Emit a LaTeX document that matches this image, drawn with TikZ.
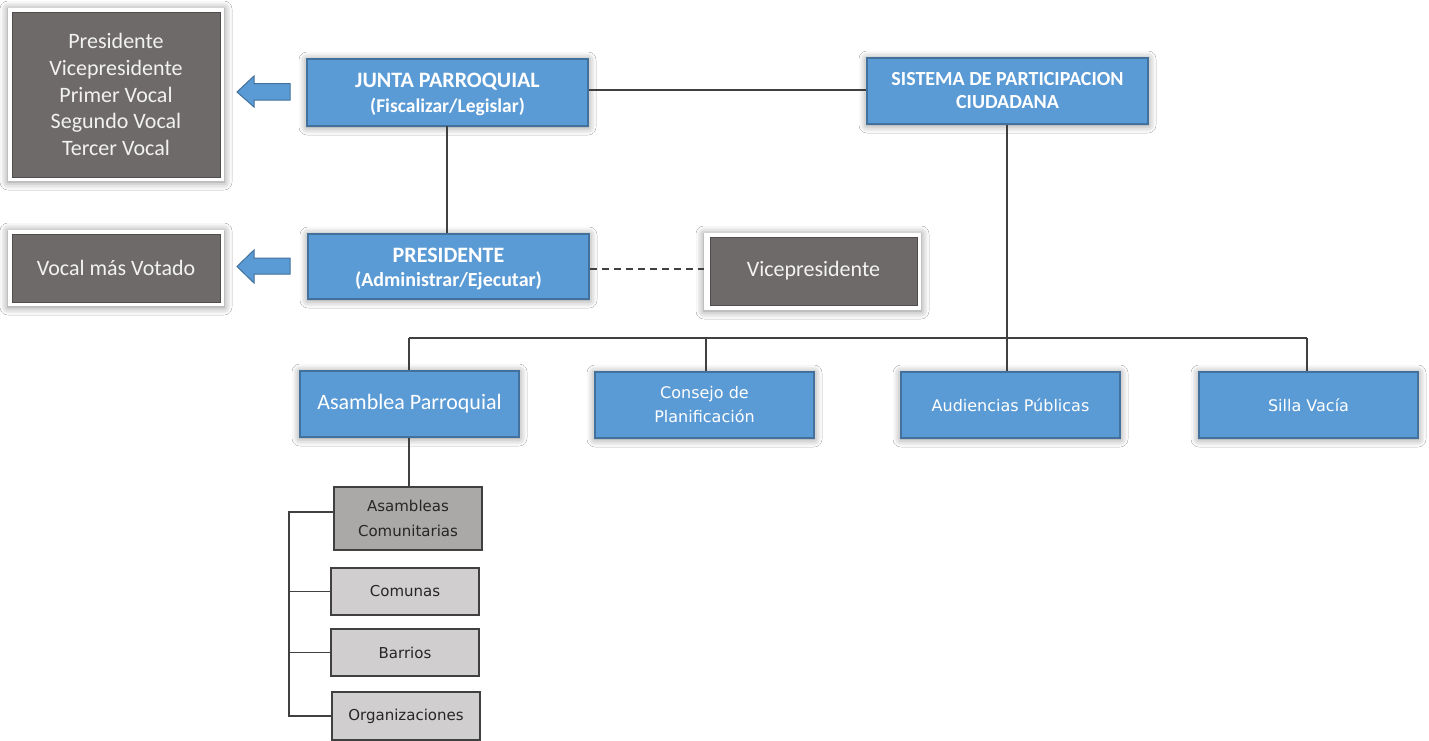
\documentclass[tikz,border=0pt]{standalone}
\usepackage{fontspec}
\setmainfont{Carlito}
\newfontfamily\djv{DejaVu Sans}
\usetikzlibrary{shadows.blur}
\definecolor{blu}{HTML}{5B9BD5}
\definecolor{bluedge}{HTML}{41719C}
\definecolor{gry}{HTML}{6E6A69}
\definecolor{gryedge}{HTML}{4F4C4B}
\definecolor{lgry}{HTML}{D0CECE}
\definecolor{mgry}{HTML}{ABA8A8}
\definecolor{ln}{HTML}{404040}
\definecolor{dtext}{HTML}{262626}
\begin{document}
\begin{tikzpicture}[x=1pt,y=-1pt,
  shad/.style={blur shadow={shadow xshift=0pt,shadow yshift=-1pt,shadow blur radius=8pt,shadow opacity=50}},
  bluebox/.style={rectangle,fill=blu,draw=bluedge,line width=1.5pt,inner sep=0pt,text=white,align=center,shad},
  frame/.style={rectangle,fill=white,draw=none,inner sep=0pt,shad},
  greybox/.style={rectangle,fill=gry,draw=gryedge,line width=1pt,inner sep=0pt,text=white!95!black,align=center},
  subbox/.style={rectangle,draw=ln,line width=1.5pt,inner sep=0pt,text=dtext,align=center,
    minimum width=148pt,font=\djv\fontsize{15}{25}\selectfont},
  conn/.style={draw=ln,line width=1.6pt},
  blockarrow/.style={fill=blu,draw=bluedge,line width=1pt}
]
\useasboundingbox (0,0) rectangle (1429,740);
\fill[white] (0,0) rectangle (1429,740);

% top-left grey list
\node[frame,minimum width=216pt,minimum height=173pt] (g1f) at (116,94.5) {};
\node[greybox,minimum width=208pt,minimum height=165pt,font=\fontsize{22}{26.7}\selectfont] (g1) at (116,94.5)
  {Presidente\\Vicepresidente\\Primer Vocal\\Segundo Vocal\\Tercer Vocal};

% second grey
\node[frame,minimum width=216pt,minimum height=76pt] (g2f) at (116,268) {};
\node[greybox,minimum width=208pt,minimum height=68pt,font=\fontsize{22}{24}\selectfont] (g2) at (116,268) {Vocal más Votado};

% vicepresidente
\node[frame,minimum width=217pt,minimum height=77pt] (vicef) at (812.5,271.5) {};
\node[greybox,minimum width=207pt,minimum height=68pt,font=\fontsize{22}{24}\selectfont] (vice) at (813.5,271) {Vicepresidente};

% blue main boxes
\node[bluebox,minimum width=281pt,minimum height=67pt,font=\bfseries\fontsize{22}{25}\selectfont] (junta) at (447.5,92.5)
  {\rule{0pt}{19pt}JUNTA PARROQUIAL\\{\fontsize{19.5}{25}\selectfont (Fiscalizar/Legislar)}};
\node[bluebox,minimum width=281pt,minimum height=66pt,font=\bfseries\fontsize{20}{23}\selectfont] (sis) at (1007.5,91)
  {SISTEMA DE PARTICIPACION\\CIUDADANA};
\node[bluebox,minimum width=281pt,minimum height=65pt,font=\bfseries\fontsize{22}{24}\selectfont] (pres) at (448.5,266.5)
  {\rule{0pt}{19pt}PRESIDENTE\\{\fontsize{20}{24}\selectfont (Administrar/Ejecutar)}};

% second row blue boxes
\node[bluebox,minimum width=219pt,minimum height=66pt,font=\fontsize{22}{24}\selectfont] (asam) at (409.5,404) {Asamblea Parroquial};
\node[bluebox,minimum width=219pt,minimum height=66pt,font=\djv\fontsize{16}{24}\selectfont] (cons) at (704.5,405) {Consejo de\\Planificación};
\node[bluebox,minimum width=219pt,minimum height=66pt,font=\djv\fontsize{16}{24}\selectfont] (aud) at (1010.5,405) {Audiencias Públicas};
\node[bluebox,minimum width=219pt,minimum height=66pt,font=\djv\fontsize{16}{24}\selectfont] (silla) at (1308.5,405) {Silla Vacía};

% sub boxes
\node[subbox,fill=mgry,minimum height=63pt] (ac) at (408,518.5) {Asambleas\\Comunitarias};
\node[subbox,fill=lgry,minimum height=47pt] (com) at (405,591.5) {Comunas};
\node[subbox,fill=lgry,minimum height=47pt] (bar) at (405,652.5) {Barrios};
\node[subbox,fill=lgry,minimum height=48pt] (org) at (406,716) {Organizaciones};

% block arrows
\draw[blockarrow] (237,92) -- (254,76) -- (254,83.5) -- (290,83.5) -- (290,100) -- (254,100) -- (254,107) -- cycle;
\draw[blockarrow] (237,266.5) -- (254,250) -- (254,258) -- (290,258) -- (290,274) -- (254,274) -- (254,283) -- cycle;

% connectors
\coordinate (busL) at (409,338);
\coordinate (busR) at (1307,338);
\coordinate (brk) at (289,512);
\path[conn] (junta.east |- 0,90) -- (sis.west |- 0,90);
\path[conn] (447,126) -- (pres.north -| 447,0);
\path[draw=ln,line width=1.6pt,dash pattern=on 7pt off 5pt] (pres.east |- 0,269) -- (vicef.west |- 0,269);
\path[conn] (sis.south -| 1007,0) -- (aud.north -| 1007,0);
\path[conn] (busL) -- (busR);
\path[conn] (busL) -- (asam.north -| busL);
\path[conn] (706,338) -- (cons.north -| 706,0);
\path[conn] (busR) -- (silla.north -| busR);
\path[conn] (asam.south -| 409,0) -- (ac.north -| 409,0);
\path[conn] (ac.west |- brk) -- (brk) |- (org.west);
\path[conn] (brk |- com.west) -- (com.west);
\path[conn] (brk |- bar.west) -- (bar.west);
\end{tikzpicture}
\end{document}
